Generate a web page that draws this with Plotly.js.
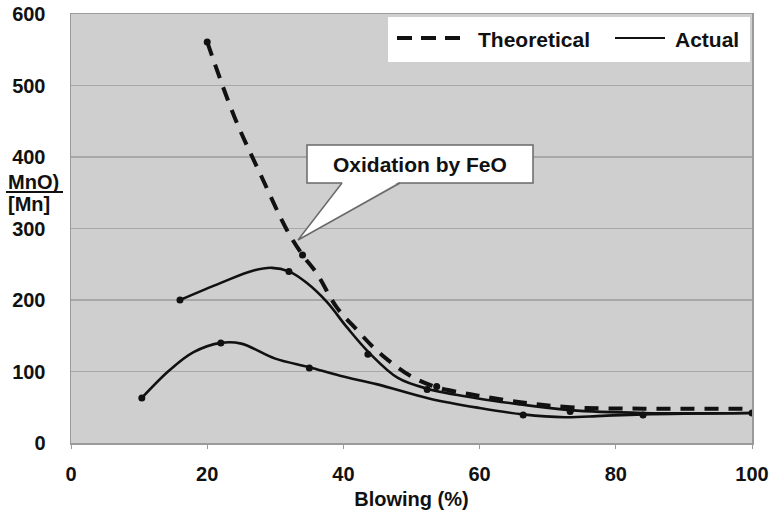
<!DOCTYPE html>
<html>
<head>
<meta charset="utf-8">
<script src="https://cdn.plot.ly/plotly-3.0.1.min.js"></script>
<style>html,body{margin:0;padding:0;background:#fff;}#chart{width:769px;height:511px;}</style>
</head>
<body>
<div id="chart"></div>
<script>
// ---- data ----
// Theoretical (dashed) curve
var theoX = [20, 24, 28, 31.7, 34, 36.1, 39, 42, 44.5, 47.1, 50.2, 53.7, 57.6, 60, 66, 73.3, 84, 100];
var theoY = [561, 456, 372, 298, 263, 237, 190, 158, 133, 112, 92, 78, 70, 66, 57, 50, 48, 48];
var theoMarkX = [20, 34, 53.7];
var theoMarkY = [561, 263, 79];

// Actual, upper curve
var upX = [16, 22, 26.7, 29.5, 32, 34.6, 37.6, 40.5, 43.8, 48, 52.3, 60, 66, 73.3, 84, 100];
var upY = [200, 224, 241, 245, 240, 224, 197, 162, 126, 91, 76, 62, 54, 46, 42, 42];
var upMarkX = [16, 32, 43.6, 52.3, 73.3];
var upMarkY = [200, 240, 124, 75, 44];

// Actual, lower curve
var lowX = [10.4, 14.5, 18, 22, 25, 30, 35, 39.5, 45, 52.7, 60, 66.4, 72.5, 78, 84, 100];
var lowY = [63, 102, 127, 140, 139, 118, 106, 94, 82, 62, 49, 40, 36, 38, 40, 42];
var lowMarkX = [10.4, 22, 35, 66.4, 84, 100];
var lowMarkY = [63, 140, 105, 39, 39, 42];

var xTicks = [0, 20, 40, 60, 80, 100];
var yTicks = [0, 100, 200, 300, 400, 500, 600];

var seriesNames = ['Theoretical', 'Actual'];
var noteText = 'Oxidation by FeO';
var xTitle = 'Blowing (%)';
var yTitleTop = 'MnO)';
var yTitleBottom = '[Mn]';

// ---- styles ----
var FONT = 'Liberation Sans, Arial, sans-serif';
var INK = '#111111';
var DASH = '14px,10px';

function curve(x, y, dashed, name) {
  return {x: x, y: y, type: 'scatter', mode: 'lines', name: name, showlegend: false,
    hoverinfo: 'skip',
    line: {color: INK, width: dashed ? 4 : 2.6, dash: dashed ? DASH : 'solid', shape: 'spline', smoothing: 1}};
}
function dots(x, y) {
  return {x: x, y: y, type: 'scatter', mode: 'markers', showlegend: false, hoverinfo: 'skip',
    marker: {color: INK, size: 7}};
}

var traces = [
  curve(lowX, lowY, false, seriesNames[1]),
  curve(upX, upY, false, seriesNames[1]),
  curve(theoX, theoY, true, seriesNames[0]),
  dots(lowMarkX, lowMarkY),
  dots(upMarkX, upMarkY),
  dots(theoMarkX, theoMarkY)
];

var L = 71, R = 17, T = 14, B = 68, W = 769, H = 511;
var pw = W - L - R, ph = H - T - B;
function px(v) { return (v - L) / pw; }
function py(v) { return (H - B - v) / ph; }

var boxBorder = '#6a6a6a';
var shapes = [
  // legend box
  {type: 'rect', xref: 'paper', yref: 'paper', x0: px(388), x1: px(750), y0: py(62), y1: py(17),
    fillcolor: '#ffffff', line: {color: '#ffffff', width: 0}, layer: 'above'},
  {type: 'line', xref: 'paper', yref: 'paper', x0: px(397), x1: px(461), y0: py(38), y1: py(38),
    line: {color: INK, width: 4, dash: '15px,9px'}, layer: 'above'},
  {type: 'line', xref: 'paper', yref: 'paper', x0: px(615), x1: px(665), y0: py(38), y1: py(38),
    line: {color: INK, width: 2}, layer: 'above'},
  // callout box
  {type: 'rect', xref: 'paper', yref: 'paper', x0: px(307), x1: px(533), y0: py(183), y1: py(145),
    fillcolor: '#ffffff', line: {color: boxBorder, width: 1.5}, layer: 'above'},
  {type: 'path', xref: 'paper', yref: 'paper',
    path: 'M ' + px(342.8) + ',' + py(181.8) + ' L ' + px(298) + ',' + py(240) + ' L ' + px(399.2) + ',' + py(181.8) + ' Z',
    fillcolor: '#ffffff', line: {width: 0}, layer: 'above'},
  {type: 'path', xref: 'paper', yref: 'paper',
    path: 'M ' + px(342) + ',' + py(183) + ' L ' + px(298) + ',' + py(240) + ' L ' + px(400) + ',' + py(183),
    fillcolor: 'rgba(0,0,0,0)', line: {color: boxBorder, width: 1.5}, layer: 'above'},
  // fraction bar of the y title
  {type: 'line', xref: 'paper', yref: 'paper', x0: px(6), x1: px(63), y0: py(192), y1: py(192),
    line: {color: INK, width: 2}}
];

var bold = {family: FONT, size: 20, color: INK, weight: 700};
var annotations = [
  {xref: 'paper', yref: 'paper', x: px(476), y: py(39), xanchor: 'left', yanchor: 'middle',
    text: seriesNames[0], showarrow: false, font: {family: FONT, size: 21, color: INK, weight: 700}},
  {xref: 'paper', yref: 'paper', x: px(673), y: py(39), xanchor: 'left', yanchor: 'middle',
    text: seriesNames[1], showarrow: false, font: {family: FONT, size: 21, color: INK, weight: 700}},
  {xref: 'paper', yref: 'paper', x: px(420), y: py(164), xanchor: 'center', yanchor: 'middle',
    text: noteText, showarrow: false, font: {family: FONT, size: 21, color: INK, weight: 700}},
  {xref: 'paper', yref: 'paper', x: px(6), y: py(182), xanchor: 'left', yanchor: 'middle',
    text: yTitleTop, showarrow: false, font: bold},
  {xref: 'paper', yref: 'paper', x: px(6), y: py(204), xanchor: 'left', yanchor: 'middle',
    text: yTitleBottom, showarrow: false, font: bold}
];

var layout = {
  width: W, height: H,
  margin: {l: L, r: R, t: T, b: B, pad: 0},
  paper_bgcolor: '#ffffff',
  plot_bgcolor: '#cfcfcf',
  showlegend: false,
  font: {family: FONT, color: INK},
  xaxis: {
    range: [0, 100], tickvals: xTicks, ticktext: xTicks.map(String),
    showgrid: false, zeroline: false,
    showline: true, linecolor: '#9a9a9a', linewidth: 1.5, mirror: true,
    ticks: 'outside', ticklen: 4, tickcolor: '#9a9a9a', tickwidth: 1,
    tickfont: bold, ticklabelstandoff: 8,
    title: {text: xTitle, font: bold, standoff: 8},
    automargin: false
  },
  yaxis: {
    range: [0, 600], tickvals: yTicks, ticktext: yTicks.map(String),
    showgrid: true, gridcolor: '#a8a8a8', gridwidth: 1.5, zeroline: false,
    showline: true, linecolor: '#9a9a9a', linewidth: 1.5, mirror: true,
    ticks: '', tickfont: bold, ticklabelstandoff: 20,
    automargin: false
  },
  shapes: shapes,
  annotations: annotations
};

Plotly.newPlot('chart', traces, layout, {displayModeBar: false, staticPlot: true});
</script>
</body>
</html>
